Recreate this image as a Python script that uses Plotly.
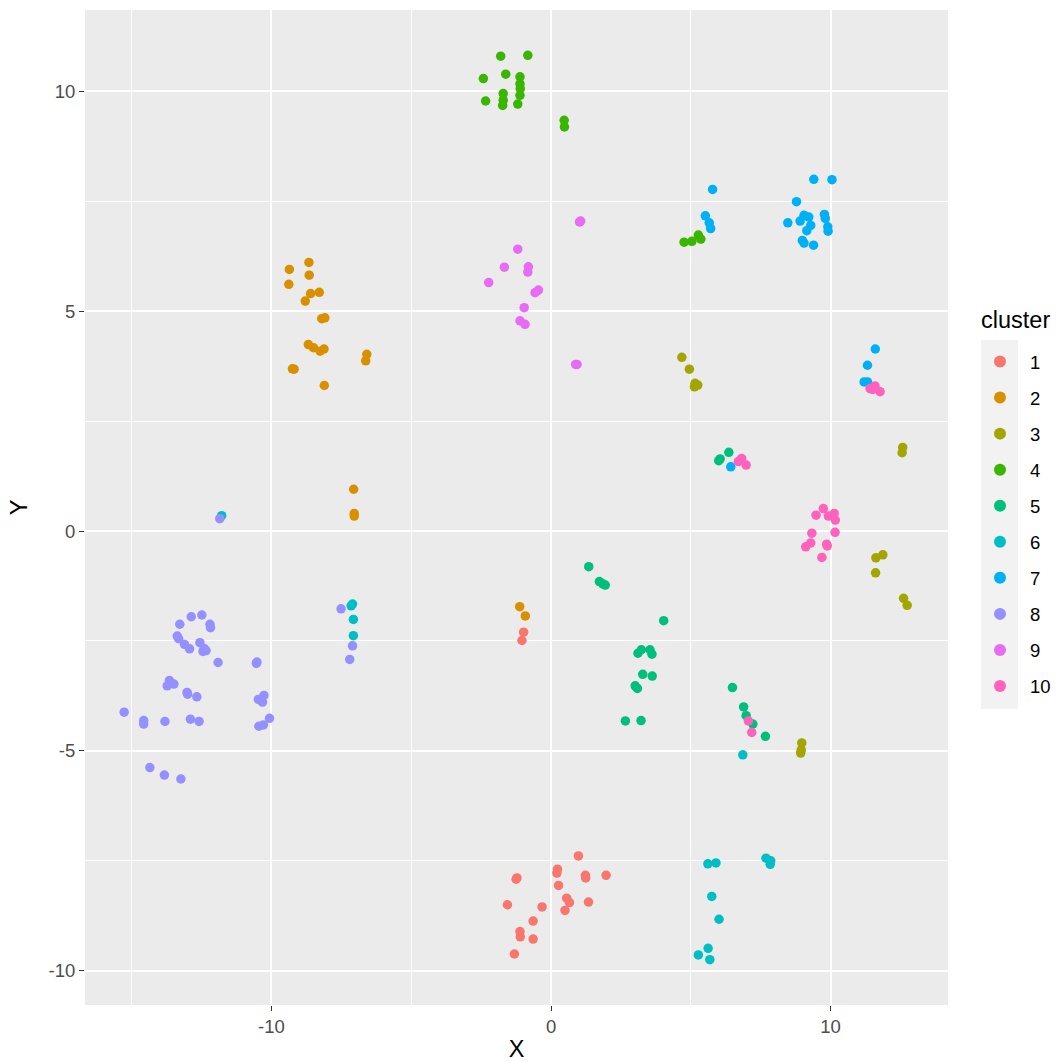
import plotly.graph_objects as go

clusters = ["1", "2", "3", "4", "5", "6", "7", "8", "9", "10"]
colors = ["#F8766D", "#D89000", "#A3A500", "#39B600", "#00BF7D",
          "#00BFC4", "#00B0F6", "#9590FF", "#E76BF3", "#FF62BC"]

x1 = [0.98, 0.23, 0.21, -1.22, -1.25, 1.23, 1.24, 1.97, 0.27, -1.56, -0.32, 0.56, 0.66, 1.34, 0.50, -0.64, -1.11, -1.10, -0.64, -1.31, -0.98, -1.04]
y1 = [-7.39, -7.69, -7.78, -7.89, -7.92, -7.83, -7.89, -7.83, -8.06, -8.50, -8.55, -8.35, -8.45, -8.44, -8.63, -8.87, -9.11, -9.23, -9.28, -9.62, -2.30, -2.49]

x2 = [-9.36, -8.66, -9.38, -8.65, -8.29, -8.60, -8.79, -8.20, -8.09, -8.68, -8.50, -8.26, -8.12, -6.59, -6.63, -9.19, -9.25, -8.11, -7.06, -7.04, -7.04, -1.12, -0.92]
y2 = [5.95, 6.11, 5.61, 5.82, 5.43, 5.40, 5.23, 4.83, 4.85, 4.24, 4.17, 4.09, 4.14, 4.02, 3.87, 3.68, 3.69, 3.31, 0.95, 0.40, 0.34, -1.72, -1.93]

x3 = [4.68, 4.95, 5.15, 5.25, 5.13, 12.58, 12.56, 11.87, 11.62, 11.61, 12.61, 12.74, 8.97, 8.93, 8.95]
y3 = [3.95, 3.68, 3.36, 3.32, 3.28, 1.90, 1.78, -0.54, -0.61, -0.95, -1.53, -1.69, -4.82, -5.05, -4.98]

x4 = [-1.80, -0.83, -2.42, -1.62, -1.11, -1.11, -1.10, -1.11, -2.34, -1.71, -1.71, -1.73, -1.19, 0.47, 0.48, 4.76, 5.04, 5.27, 5.36]
y4 = [10.80, 10.82, 10.29, 10.39, 10.33, 10.17, 10.06, 9.91, 9.78, 9.95, 9.80, 9.68, 9.71, 9.34, 9.19, 6.57, 6.59, 6.73, 6.64]

x5 = [1.35, 1.73, 1.94, 1.85, 4.03, 3.11, 3.23, 3.54, 3.61, 3.28, 3.62, 3.01, 3.09, 2.66, 3.22, 6.49, 6.89, 6.98, 7.22, 7.67, 6.05, 6.36, 6.00]
y5 = [-0.81, -1.15, -1.23, -1.20, -2.04, -2.78, -2.70, -2.70, -2.80, -3.26, -3.30, -3.52, -3.58, -4.32, -4.31, -3.56, -4.00, -4.20, -4.39, -4.67, 1.64, 1.79, 1.60]

x6 = [-7.15, -7.10, -7.07, -7.07, -11.78, 5.61, 5.90, 7.69, 7.86, 7.84, 5.75, 6.01, 5.27, 5.62, 5.68, 6.86]
y6 = [-1.70, -1.66, -2.01, -2.38, 0.35, -7.57, -7.55, -7.44, -7.50, -7.58, -8.31, -8.83, -9.64, -9.49, -9.75, -5.09]

x7 = [5.78, 5.52, 5.66, 5.71, 9.40, 10.05, 8.78, 8.47, 8.91, 9.05, 9.22, 9.29, 9.15, 8.99, 9.05, 9.39, 9.78, 9.81, 9.90, 9.91, 11.60, 11.32, 11.20, 11.32, 6.43]
y7 = [7.77, 7.17, 7.01, 6.88, 8.00, 7.99, 7.49, 7.01, 7.05, 7.18, 7.14, 6.95, 6.83, 6.61, 6.55, 6.50, 7.20, 7.11, 6.92, 6.82, 4.14, 3.77, 3.39, 3.39, 1.46]

x8 = [-7.51, -7.10, -7.20, -11.85, -15.27, -14.57, -14.57, -13.81, -12.90, -12.59, -14.35, -13.83, -13.24,
      -13.65, -13.49, -13.73, -13.02, -13.00, -12.67, -13.28, -12.87, -12.49, -12.20, -12.18, -13.37, -13.32,
      -13.11, -12.93, -12.56, -12.41, -12.34, -12.45, -11.91, -10.54, -10.52, -10.47, -10.27, -10.32,
      -10.07, -10.45, -10.29]
y8 = [-1.77, -2.61, -2.92, 0.28, -4.12, -4.31, -4.39, -4.33, -4.28, -4.33, -5.38, -5.55, -5.64,
      -3.40, -3.48, -3.52, -3.67, -3.71, -3.77, -2.12, -1.95, -1.91, -2.12, -2.20, -2.39, -2.45,
      -2.58, -2.68, -2.54, -2.67, -2.72, -2.74, -2.99, -3.01, -2.98, -3.83, -3.74, -3.89,
      -4.26, -4.44, -4.41]

x9 = [1.06, 1.02, -1.19, -1.67, -0.81, -0.83, -2.23, -0.45, -0.57, -0.96, -1.11, -0.93, 0.93, 0.88]
y9 = [7.05, 7.03, 6.41, 6.00, 6.01, 5.89, 5.65, 5.48, 5.42, 5.08, 4.78, 4.70, 3.79, 3.79]

x10 = [11.41, 11.59, 11.50, 11.77, 6.82, 6.70, 6.98, 9.48, 9.74, 9.92, 10.13, 10.17, 9.33, 10.16, 9.29, 9.11, 9.86, 9.88, 9.69, 7.06, 7.18]
y10 = [3.24, 3.30, 3.22, 3.17, 1.65, 1.58, 1.50, 0.36, 0.51, 0.34, 0.40, 0.25, -0.05, -0.03, -0.27, -0.36, -0.30, -0.34, -0.60, -4.32, -4.58]

xs = [x1, x2, x3, x4, x5, x6, x7, x8, x9, x10]
ys = [y1, y2, y3, y4, y5, y6, y7, y8, y9, y10]

x_ticks = [-10, 0, 10]
x_tick_labels = ["-10", "0", "10"]
y_ticks = [-10, -5, 0, 5, 10]
y_tick_labels = ["-10", "-5", "0", "5", "10"]

FONT = "Liberation Sans, Arial, sans-serif"
W, H = 1059, 1062

fig = go.Figure()
for name, col, xv, yv in zip(clusters, colors, xs, ys):
    fig.add_trace(go.Scatter(
        x=xv, y=yv, mode="markers", name=name, legendgroup=name,
        marker=dict(color=col, size=9.5, line=dict(width=0)),
    ))

axis_common = dict(
    showgrid=True, gridcolor="white", gridwidth=2,
    zeroline=False, showline=False, automargin=False,
    ticks="outside", ticklen=5, tickwidth=1, tickcolor="#333333",
    tickfont=dict(family=FONT, size=18.5, color="#4D4D4D"),
    minor=dict(showgrid=True, gridcolor="white", gridwidth=1, ticks=""),
)

fig.update_layout(
    width=W, height=H,
    margin=dict(l=85, r=111, t=10, b=57),
    paper_bgcolor="white", plot_bgcolor="#EBEBEB",
    font=dict(family=FONT, color="black"),
    xaxis=dict(range=[-16.67, 14.2], tickvals=x_ticks, ticktext=x_tick_labels, **axis_common,
               title=dict(text="X", font=dict(family=FONT, size=23.5, color="black"), standoff=4)),
    yaxis=dict(range=[-10.78, 11.85], tickvals=y_ticks, ticktext=y_tick_labels, **axis_common,
               title=dict(text="Y", font=dict(family=FONT, size=23.5, color="black"), standoff=14)),
    legend=dict(
        font=dict(family=FONT, size=18.5, color="black"),
        xref="container", yref="container",
        x=970 / W, xanchor="left", y=1 - 343 / H, yanchor="top",
        bgcolor="rgba(0,0,0,0)", tracegroupgap=9, itemwidth=50,
        itemsizing="constant",
    ),
)
fig.update_xaxes(minor=dict(tickvals=[-15, -5, 5]))
fig.update_yaxes(minor=dict(tickvals=[-7.5, -2.5, 2.5, 7.5]))

fig.add_shape(type="rect", xref="paper", yref="paper",
              x0=(981 - 85) / 863, x1=(1018 - 85) / 863,
              y0=(1005 - 709) / 995, y1=(1005 - 340) / 995,
              fillcolor="#F2F2F2", line=dict(width=0), layer="below")

fig.add_annotation(text="cluster", xref="paper", yref="paper",
                   x=(979 - 85) / 863, y=(1005 - 320) / 995,
                   xanchor="left", yanchor="middle", showarrow=False,
                   font=dict(family=FONT, size=23.5, color="black"))

fig.write_html("out.html")
